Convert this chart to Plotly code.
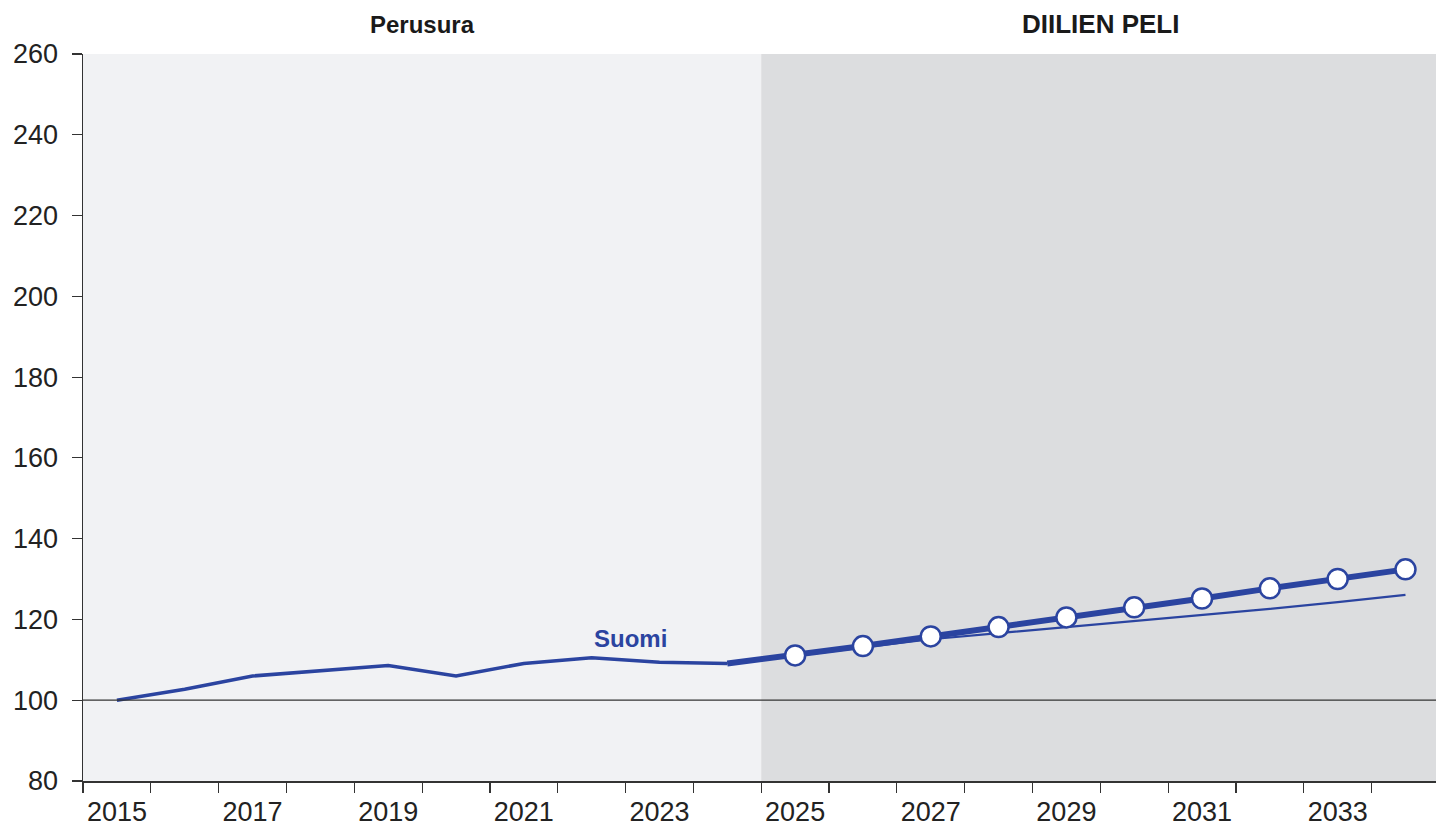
import plotly.graph_objects as go

# ---- data ----
hist_years = [2015, 2016, 2017, 2018, 2019, 2020, 2021, 2022, 2023, 2024]
hist_values = [100.0, 102.7, 106.0, 107.2, 108.6, 106.0, 109.1, 110.5, 109.4, 109.1]

proj_years = [2024, 2025, 2026, 2027, 2028, 2029, 2030, 2031, 2032, 2033, 2034]
proj_main = [109.1, 111.1, 113.4, 115.8, 118.1, 120.5, 123.0, 125.2, 127.7, 130.0, 132.4]
proj_base = [109.1, 111.0, 113.1, 115.1, 116.6, 118.1, 119.6, 121.1, 122.6, 124.3, 126.1]

x_labels = [2015, 2017, 2019, 2021, 2023, 2025, 2027, 2029, 2031, 2033]
y_ticks = [80, 100, 120, 140, 160, 180, 200, 220, 240, 260]

section_titles = ["Perusura", "DIILIEN PELI"]
series_label = "Suomi"

BLUE = "#2B44A0"
AXIS = "#333333"
FONT = "Liberation Sans, Arial, sans-serif"

fig = go.Figure()

fig.add_trace(go.Scatter(x=hist_years, y=hist_values, mode="lines",
                         line=dict(color=BLUE, width=3.5), hoverinfo="skip", showlegend=False))
fig.add_trace(go.Scatter(x=proj_years, y=proj_base, mode="lines",
                         line=dict(color=BLUE, width=2.2), hoverinfo="skip", showlegend=False))
fig.add_trace(go.Scatter(x=proj_years, y=proj_main, mode="lines",
                         line=dict(color=BLUE, width=6), hoverinfo="skip", showlegend=False))
fig.add_trace(go.Scatter(x=proj_years[1:], y=proj_main[1:], mode="markers",
                         marker=dict(size=20, color="white", line=dict(color=BLUE, width=2.5)),
                         hoverinfo="skip", showlegend=False))

# background bands
fig.add_shape(type="rect", xref="x", yref="paper", x0=2014.5, x1=2024.5, y0=0, y1=1,
              fillcolor="#F1F2F4", line=dict(width=0), layer="below")
fig.add_shape(type="rect", xref="x", yref="paper", x0=2024.5, x1=2035, y0=0, y1=1,
              fillcolor="#DCDDDF", line=dict(width=0), layer="below")
# reference line at 100
fig.add_shape(type="line", xref="paper", yref="y", x0=0, x1=1, y0=100, y1=100,
              line=dict(color=AXIS, width=1.2), layer="above")

# section titles
fig.add_annotation(x=2019.5, xref="x", y=1, yref="paper", yanchor="bottom", yshift=14,
                   text="<b>%s</b>" % section_titles[0], showarrow=False,
                   font=dict(family=FONT, size=24, color="#1a1a1a"))
fig.add_annotation(x=2029.5, xref="x", y=1, yref="paper", yanchor="bottom", yshift=13,
                   text="<b>%s</b>" % section_titles[1], showarrow=False,
                   font=dict(family=FONT, size=26, color="#1a1a1a"))

fig.add_annotation(x=2022.57, y=115.3, xref="x", yref="y", text="<b>%s</b>" % series_label,
                   showarrow=False, font=dict(family=FONT, size=24, color=BLUE))

fig.update_layout(
    width=1436, height=827,
    margin=dict(l=83, r=0, t=54, b=46),
    paper_bgcolor="white", plot_bgcolor="white",
    font=dict(family=FONT, size=27, color="#222222"),
    xaxis=dict(range=[2014.5, 2034.45], tickmode="array", tickvals=x_labels,
               ticktext=[str(v) for v in x_labels], ticks="", showgrid=False,
               zeroline=False, showline=True, linecolor=AXIS, linewidth=1.5,
               ticklabelstandoff=6, automargin=False,
               tickfont=dict(family=FONT, size=27, color="#222222"),
               minor=dict(tickmode="linear", tick0=2014.5, dtick=1, ticks="outside",
                          ticklen=10, tickcolor=AXIS, tickwidth=1.2, showgrid=False)),
    yaxis=dict(range=[80, 260], tickmode="array", tickvals=y_ticks, ticks="outside",
               ticklen=10, tickcolor=AXIS, tickwidth=1.2, showgrid=False, zeroline=False,
               showline=True, linecolor=AXIS, linewidth=1.5, ticklabelstandoff=8,
               automargin=False,
               tickfont=dict(family=FONT, size=27, color="#222222")),
)

fig.write_html("out.html",
               config={"displayModeBar": False, "staticPlot": True},
               post_script="document.body.style.margin='0';"
                           "document.body.style.overflow='hidden';"
                           "document.documentElement.style.overflow='hidden';")
